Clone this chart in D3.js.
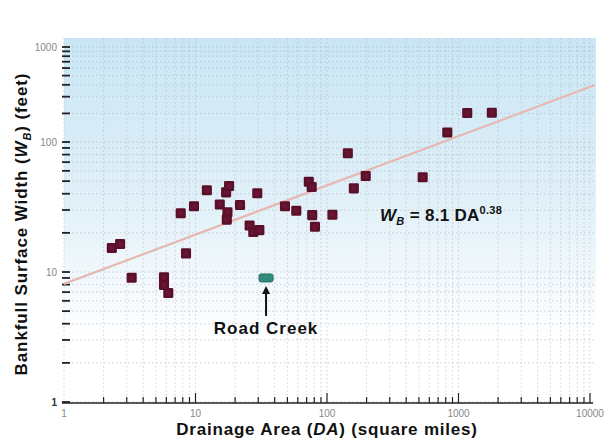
<!DOCTYPE html>
<html>
<head>
<meta charset="utf-8">
<script src="https://cdn.jsdelivr.net/npm/d3@7"></script>
<style>
  body { margin: 0; background: #fff; }
  svg { display: block; font-family: "Liberation Sans", Arial, sans-serif; }
</style>
</head>
<body>
<svg id="chart" width="604" height="447"></svg>
<script>
// drainage area (sq mi) and bankfull width (ft)
const drainageArea = [2.31, 2.67, 3.27, 5.76, 5.76, 6.21, 8.47, 7.72, 9.74, 12.2,
  15.3, 17.1, 18.0, 17.5, 17.3, 21.8, 29.5, 25.8, 27.5, 30.6,
  47.9, 58.4, 72.7, 76.5, 77.2, 81.0, 110, 144, 160, 197,
  534, 822, 1165, 1792];
const bankfullWidth = [15.3, 16.4, 9.04, 9.10, 7.94, 6.90, 13.9, 28.3, 32.0, 42.5,
  33.1, 41.0, 45.9, 28.8, 25.3, 32.8, 40.3, 22.8, 20.3, 21.0,
  32.0, 29.6, 49.5, 45.1, 27.4, 22.3, 27.6, 81.9, 44.0, 54.8,
  53.5, 126, 202, 203];

const roadCreekDA = [34.4];
const roadCreekWB = [9.0];

// regression line end points as drawn
const fitDA = [1, 10900];
const fitWB = [8.1, 398];

const xTickValues = [1, 10, 100, 1000, 10000];
const xTickLabels = ["1", "10", "100", "1000", "10000"];
const yTickValues = [1, 10, 100, 1000];
const yTickLabels = ["1", "10", "100", "1000"];

const svg = d3.select("#chart");

const x = d3.scaleLog().domain([1, 10000]).range([64, 590]);
// the printed y axis is not evenly spaced per decade
const y = d3.scaleLog().domain([1, 10, 100, 1000]).range([402, 272, 142, 47]);

const plotLeft = 64, plotRight = 596, plotTop = 38, plotBottom = 403;

// background gradient
const defs = svg.append("defs");
const grad = defs.append("linearGradient")
  .attr("id", "bg")
  .attr("x1", 0).attr("y1", 0).attr("x2", 0).attr("y2", 1);
grad.append("stop").attr("offset", "0%").attr("stop-color", "#c9e6f5");
grad.append("stop").attr("offset", "45%").attr("stop-color", "#e1f0f8");
grad.append("stop").attr("offset", "82%").attr("stop-color", "#ffffff");
grad.append("stop").attr("offset", "100%").attr("stop-color", "#ffffff");

svg.append("rect")
  .attr("x", plotLeft).attr("y", plotTop)
  .attr("width", plotRight - plotLeft).attr("height", plotBottom - plotTop)
  .attr("fill", "url(#bg)");

// minor grid (dotted) on every log tick
const minor = (lo, hi) => {
  const out = [];
  for (let d = lo; d < hi; d *= 10) {
    for (let k = 1; k <= 9; k++) out.push(d * k);
  }
  out.push(hi);
  return out;
};
const xMinor = minor(1, 10000);
const yMinor = minor(1, 1000);

const grid = svg.append("g").attr("stroke", "#a9adc0").attr("stroke-opacity", 0.55)
  .attr("stroke-dasharray", "1.5,2.5");
grid.selectAll(".gx").data(xMinor).enter().append("line")
  .attr("x1", d => x(d)).attr("x2", d => x(d))
  .attr("y1", plotTop).attr("y2", plotBottom);
grid.selectAll(".gy").data(yMinor).enter().append("line")
  .attr("x1", plotLeft).attr("x2", plotRight)
  .attr("y1", d => y(d)).attr("y2", d => y(d));

// x axis
svg.append("line")
  .attr("x1", 62).attr("x2", 593)
  .attr("y1", plotBottom).attr("y2", plotBottom)
  .attr("stroke", "#222").attr("stroke-width", 1.6);

svg.append("g").selectAll("line").data(xMinor.filter(d => d > 1)).enter().append("line")
  .attr("x1", d => x(d)).attr("x2", d => x(d))
  .attr("y1", plotBottom)
  .attr("y2", d => xTickValues.includes(d) ? plotBottom - 10 : plotBottom - 6)
  .attr("stroke", "#222").attr("stroke-width", 1.2);

svg.append("g").selectAll("text").data(xTickValues).enter().append("text")
  .attr("x", d => x(d)).attr("y", 417)
  .attr("text-anchor", "middle")
  .attr("font-size", 10).attr("fill", "#888")
  .text((d, i) => xTickLabels[i]);

// y axis ticks (no spine in the original)
svg.append("g").selectAll("line").data(yMinor).enter().append("line")
  .attr("x1", 62).attr("x2", 70)
  .attr("y1", d => y(d)).attr("y2", d => y(d))
  .attr("stroke", "#222").attr("stroke-width", 1.8);

svg.append("g").selectAll("text").data(yTickValues).enter().append("text")
  .attr("x", 57).attr("y", d => y(d) + 3.5)
  .attr("text-anchor", "end")
  .attr("font-size", 10).attr("fill", d => d === 1 ? "#333" : "#888")
  .attr("font-weight", d => d === 1 ? "bold" : "normal")
  .text((d, i) => yTickLabels[i]);

// regression line
const line = d3.line().x(d => x(d[0])).y(d => y(d[1]));
svg.append("path")
  .datum(fitDA.map((d, i) => [d, fitWB[i]]))
  .attr("d", line)
  .attr("fill", "none")
  .attr("stroke", "#e6b8b2")
  .attr("stroke-width", 2.2);

// data points
const sym = d3.symbol().type(d3.symbolSquare).size(56);
svg.append("g").selectAll("path").data(drainageArea).enter().append("path")
  .attr("transform", (d, i) => `translate(${x(d)},${y(bankfullWidth[i])})`)
  .attr("d", sym)
  .attr("fill", "#6a1533")
  .attr("stroke", "#5a1029")
  .attr("stroke-width", 2.6)
  .attr("stroke-linejoin", "round");

// Road Creek
svg.append("g").selectAll("rect").data(roadCreekDA).enter().append("rect")
  .attr("x", d => x(d) - 7).attr("y", (d, i) => y(roadCreekWB[i]) - 4)
  .attr("width", 14).attr("height", 8).attr("rx", 2)
  .attr("fill", "#2f8c7c").attr("stroke", "#24705f").attr("stroke-width", 1);

const rcX = x(roadCreekDA[0]), rcY = y(roadCreekWB[0]);
svg.append("line")
  .attr("x1", rcX).attr("x2", rcX)
  .attr("y1", rcY + 14).attr("y2", rcY + 38)
  .attr("stroke", "#111").attr("stroke-width", 2);
svg.append("path")
  .attr("d", `M${rcX},${rcY + 8} L${rcX - 4},${rcY + 16} L${rcX + 4},${rcY + 16} Z`)
  .attr("fill", "#111");
svg.append("text")
  .attr("x", rcX).attr("y", 334)
  .attr("text-anchor", "middle")
  .attr("font-size", 17).attr("font-weight", "bold").attr("fill", "#111")
  .attr("letter-spacing", 1)
  .text("Road Creek");

// equation
const eq = svg.append("text")
  .attr("x", 380).attr("y", 221)
  .attr("font-size", 17).attr("font-weight", "bold").attr("fill", "#111")
  .attr("letter-spacing", 0.3);
eq.append("tspan").attr("font-style", "italic").text("W");
eq.append("tspan").attr("font-style", "italic").attr("font-size", 11).attr("dy", 4).text("B");
eq.append("tspan").attr("dy", -4).text(" = 8.1 DA");
eq.append("tspan").attr("font-size", 11).attr("dy", -7).text("0.38");

// axis titles
const xt = svg.append("text")
  .attr("x", 327).attr("y", 435)
  .attr("text-anchor", "middle")
  .attr("font-size", 17).attr("font-weight", "bold").attr("fill", "#111")
  .attr("letter-spacing", 0.8);
xt.append("tspan").text("Drainage Area (");
xt.append("tspan").attr("font-style", "italic").text("DA");
xt.append("tspan").text(") (square miles)");

const yt = svg.append("text")
  .attr("transform", "translate(27,224) rotate(-90)")
  .attr("text-anchor", "middle")
  .attr("font-size", 17).attr("font-weight", "bold").attr("fill", "#111")
  .attr("letter-spacing", 0.9);
yt.append("tspan").text("Bankfull Surface Width (");
yt.append("tspan").attr("font-style", "italic").text("W");
yt.append("tspan").attr("font-style", "italic").attr("font-size", 11).attr("dy", 4).text("B");
yt.append("tspan").attr("dy", -4).text(") (feet)");
</script>
</body>
</html>
